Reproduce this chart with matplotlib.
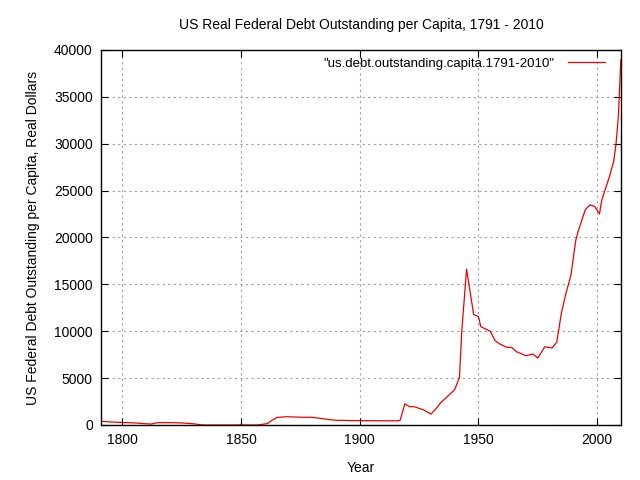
import matplotlib
matplotlib.use("Agg")
import matplotlib.pyplot as plt

plt.rcParams['font.family'] = ['Liberation Sans', 'DejaVu Sans']

# values (real dollars per capita)
years = [1791, 1795, 1800, 1805, 1810, 1812, 1815, 1820, 1825, 1830, 1833, 1835,
         1845, 1849, 1850, 1851, 1857, 1861, 1863, 1865, 1869, 1875, 1880, 1887,
         1890, 1900, 1910, 1916, 1917, 1919, 1921, 1923, 1927, 1930, 1932, 1934,
         1937, 1940, 1942, 1943, 1945, 1948, 1950, 1951, 1953, 1955, 1957, 1959,
         1962, 1964, 1966, 1970, 1973, 1975, 1978, 1981, 1983, 1985, 1987, 1989,
         1991, 1992, 1995, 1997, 1999, 2001, 2002, 2005, 2007, 2008, 2009, 2010]
debt = [400, 320, 270, 220, 130, 100, 250, 250, 220, 130, 20, 0,
        0, 0, 60, 0, 0, 150, 500, 800, 880, 830, 820, 580,
        500, 460, 450, 450, 500, 2250, 1950, 1950, 1600, 1170, 1700, 2350,
        3050, 3770, 5080, 10060, 16600, 11770, 11560, 10490, 10240, 9990, 9000, 8640,
        8280, 8280, 7820, 7390, 7570, 7140, 8350, 8210, 8820, 12000, 14150, 16000,
        19660, 20620, 22940, 23470, 23300, 22510, 24000, 26320, 28090, 30000, 33000, 38940]

fig = plt.figure(figsize=(6.4, 4.8), dpi=100)
ax = fig.add_axes([0.158, 0.1146, 0.812, 0.7814])

ax.plot(years, debt, color='#ee0000', lw=0.9,
        label='"us.debt.outstanding.capita.1791-2010"')

ax.set_xlim(1791, 2010)
ax.set_ylim(0, 40000)
ax.set_xticks([1800, 1850, 1900, 1950, 2000])
ax.set_yticks(range(0, 40001, 5000))
ax.grid(True, color='#a0a0a0', linestyle=(0, (2, 3)), lw=0.8)
ax.tick_params(direction='in', top=True, right=True, length=5, labelsize=10, pad=6)
for s in ax.spines.values():
    s.set_linewidth(1.0)

ax.set_title('US Real Federal Debt Outstanding per Capita, 1791 - 2010', fontsize=10, pad=15)
ax.set_xlabel('Year', fontsize=10, labelpad=10)
ax.set_ylabel('US Federal Debt Outstanding per Capita, Real Dollars', fontsize=10, labelpad=10)

leg = ax.legend(loc='upper right', bbox_to_anchor=(1, 1.021), frameon=False,
                fontsize=9.5, handlelength=2.8, handletextpad=1.0,
                markerfirst=False, borderaxespad=0.8)

fig.savefig('out.png', dpi=100)
